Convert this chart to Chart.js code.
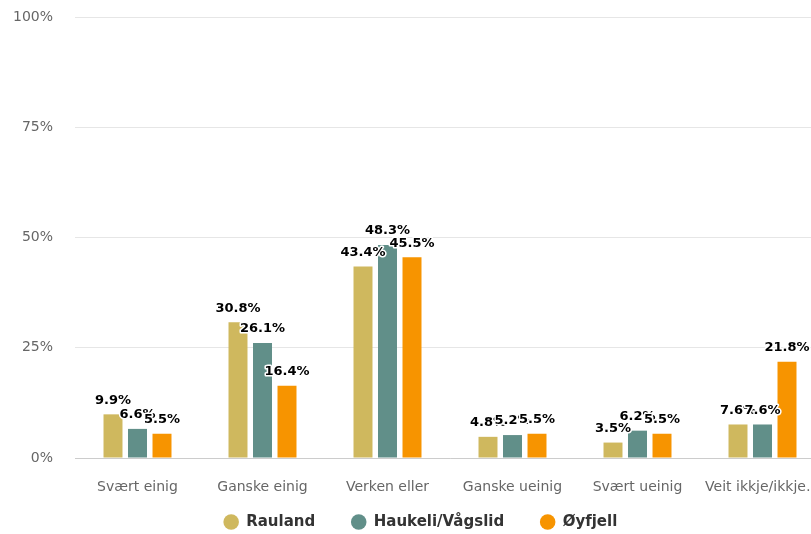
<!DOCTYPE html>
<html>
<head>
<meta charset="utf-8">
<script src="https://cdn.jsdelivr.net/npm/chart.js@4/dist/chart.umd.min.js"></script>
<style>
  html, body { margin: 0; padding: 0; background: #fff; }
  #wrap { position: relative; width: 811px; height: 534px; overflow: hidden; }
  #chart { position: absolute; left: -14px; top: 0; }
</style>
</head>
<body>
<div id="wrap">
  <canvas id="chart" width="840" height="559"></canvas>
</div>
<script>
// categories and series (percent)
const categories = [
  "Svært einig",
  "Ganske einig",
  "Verken eller",
  "Ganske ueinig",
  "Svært ueinig",
  "Veit ikkje/ikkje svar",
];
const seriesNames = ["Rauland", "Haukeli/Vågslid", "Øyfjell"];
const rauland = [9.9, 30.8, 43.4, 4.8, 3.5, 7.6];
const haukeli = [6.6, 26.1, 48.3, 5.2, 6.2, 7.6];
const oyfjell = [5.5, 16.4, 45.5, 5.5, 5.5, 21.8];
const yTicks = [0, 25, 50, 75, 100];

const colors = ["#cfb85e", "#618f89", "#f79400"];
const FONT = "'DejaVu Sans', Verdana, sans-serif";

// shorten long category names with an ellipsis, like the original axis
const measure = document.createElement("canvas").getContext("2d");
function fitLabel(text, maxW) {
  measure.font = "14px " + FONT;
  if (measure.measureText(text).width <= maxW) return text;
  let t = text;
  while (t.length > 1 && measure.measureText(t + "…").width > maxW) {
    t = t.slice(0, -1);
  }
  return t.trimEnd() + "…";
}

// value labels above the bars, white outline like the original
const barLabels = {
  id: "barLabels",
  afterDatasetsDraw(chart) {
    const ctx = chart.ctx;
    ctx.save();
    ctx.font = "bold 13px " + FONT;
    ctx.textAlign = "center";
    ctx.textBaseline = "middle";
    ctx.lineJoin = "round";
    chart.data.datasets.forEach((ds, i) => {
      const meta = chart.getDatasetMeta(i);
      meta.data.forEach((bar, j) => {
        const txt = ds.data[j].toFixed(1) + "%";
        const y = bar.y - 14;
        ctx.lineWidth = 3;
        ctx.strokeStyle = "#fff";
        ctx.strokeText(txt, bar.x, y);
        ctx.fillStyle = "#000";
        ctx.fillText(txt, bar.x, y);
      });
    });
    ctx.restore();
  },
};

// move the legend block a bit (up and right) after layout
const legendShift = {
  id: "legendShift",
  afterLayout(chart) {
    const lg = chart.legend;
    lg.top -= 19.5;
    lg.bottom -= 19.5;
    lg.left += 15;
    lg.right += 15;
  },
};

const ctx = document.getElementById("chart").getContext("2d");
new Chart(ctx, {
  type: "bar",
  data: {
    labels: categories,
    datasets: [rauland, haukeli, oyfjell].map((vals, i) => ({
      label: seriesNames[i],
      data: vals,
      backgroundColor: colors[i],
      borderWidth: 0,
      categoryPercentage: 0.588,
      barPercentage: 0.775,
    })),
  },
  options: {
    responsive: false,
    animation: false,
    devicePixelRatio: 1,
    layout: { padding: { top: 17, right: 1, bottom: 0, left: 0 } },
    plugins: {
      tooltip: { enabled: false },
      legend: {
        position: "bottom",
        labels: {
          usePointStyle: true,
          pointStyle: "circle",
          boxWidth: 15,
          boxHeight: 11,
          padding: 36,
          color: "#333",
          font: { family: FONT, size: 15, weight: "bold" },
        },
      },
    },
    scales: {
      x: {
        grid: { display: false },
        border: { display: true, color: "#ccc", width: 1 },
        ticks: {
          color: "#666",
          font: { family: FONT, size: 14 },
          padding: 13,
          autoSkip: false,
          maxRotation: 0,
          minRotation: 0,
          callback(v) {
            return fitLabel(this.getLabelForValue(v), 121);
          },
        },
        afterFit(scale) {
          scale.height = 40;
          scale.paddingRight = 0;
          scale.paddingLeft = 0;
          scale.paddingTop = 0;
          scale.paddingBottom = 0;
        },
      },
      y: {
        min: 0,
        max: 100,
        afterBuildTicks(scale) {
          scale.ticks = yTicks.map((v) => ({ value: v }));
        },
        grid: { color: "#e6e6e6", drawTicks: false },
        border: { display: false },
        ticks: {
          color: "#666",
          font: { family: FONT, size: 14 },
          padding: 22,
          callback: (v) => v + "%",
        },
        afterFit(scale) {
          scale.width = 89;
          scale.paddingTop = 0;
          scale.paddingBottom = 0;
        },
      },
    },
  },
  plugins: [barLabels, legendShift],
});
</script>
</body>
</html>
